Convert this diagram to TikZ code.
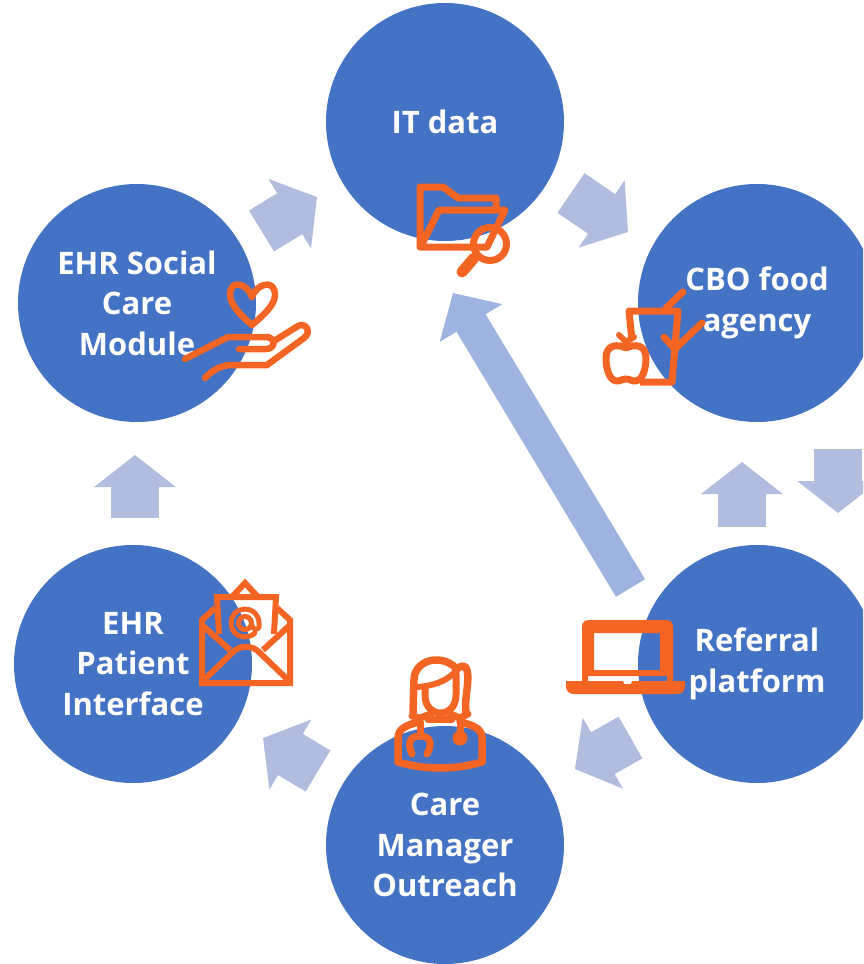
\documentclass[tikz,border=0pt]{standalone}
\usepackage{fontspec}
\setmainfont{Open Sans}
\usetikzlibrary{arrows.meta}
\definecolor{hubblue}{HTML}{4472C4}
\definecolor{shortblue}{HTML}{B0BDDF}
\definecolor{longblue}{HTML}{9DB4E0}
\definecolor{iconorange}{HTML}{F46523}
\tikzset{
  hub/.style={circle,fill=hubblue,minimum size=238pt,inner sep=0pt,text=white,align=center,
    font=\fontsize{31}{40.5}\selectfont\bfseries},
  shortarrow/.style={draw=shortblue,line width=48pt,-{Triangle[length=32pt,width=80pt,fill=shortblue]}},
  longarrow/.style={draw=longblue,line width=34pt,-{Triangle[length=35pt,width=71pt,fill=longblue]}},
  icon/.style={draw=iconorange,line width=7pt,line cap=round,line join=round},
  iconfill/.style={fill=iconorange,draw=none}
}
\begin{document}
\begin{tikzpicture}[x=1pt,y=-1pt]
  \useasboundingbox (0,0) rectangle (863,964);
  \clip (0,0) rectangle (863,964);

  % Nodes
  \draw (445,122) node(ITdata) [hub] {IT data};
  \draw (757,303) node(CBOfood) [hub] {CBO food\\agency};
  \draw (757,664) node(Referral) [hub] {Referral\\platform};
  \draw (445,845) node(CareMgr) [hub] {Care\\Manager\\Outreach};
  \draw (133,664) node(Patient) [hub] {EHR\\Patient\\Interface};
  \draw (137,303) node(Social) [hub] {EHR Social\\Care\\Module};

  % Edge ends
  \coordinate (SocialOut) at (261.5,231);
  \coordinate (ITin) at (317,197);
  \coordinate (ITout) at (571,193);
  \coordinate (CBOin) at (628,232);
  \coordinate (CBOout) at (838,449);
  \coordinate (RefIn) at (838,513);
  \coordinate (RefUp) at (742,527);
  \coordinate (CBOback) at (742,462);
  \coordinate (RefOut) at (630.5,737.5);
  \coordinate (CareIn) at (575,769);
  \coordinate (CareOut) at (318,771);
  \coordinate (PatientIn) at (263,738);
  \coordinate (PatientOut) at (135,518);
  \coordinate (SocialIn) at (135,455);
  \coordinate (RefLong) at (630.5,588);
  \coordinate (ITlong) at (453,293);

  % Edges
  \draw[shortarrow] (SocialOut) -- (ITin);
  \draw[shortarrow] (ITout) -- (CBOin);
  \draw[shortarrow] (CBOout) -- (RefIn);
  \draw[shortarrow] (RefUp) -- (CBOback);
  \draw[shortarrow] (RefOut) -- (CareIn);
  \draw[shortarrow] (CareOut) -- (PatientIn);
  \draw[shortarrow] (PatientOut) -- (SocialIn);
  \draw[longarrow] (RefLong) -- (ITlong);

  % Folder
  \draw[icon] (496,209) -- (496,198) -- (458,198) -- (443,187) -- (420,187) -- (420,247) -- (487,247) -- (505,210) -- (439,210) -- (421,246);
  \draw[icon] (490,244) circle (16.5);
  \draw[icon,line width=11pt] (462,272) -- (474,258);

  % Apple and cup
  \draw[icon,line cap=butt] (632,340) -- (629,311) -- (678,311) -- (672,382) -- (640,382);
  \draw[icon] (666,308) -- (683,292);
  \draw[icon] (664,337) -- (675,349) -- (702,323);
  \draw[icon] (626,348) .. controls (618,344) and (606,344) .. (606,358)
    .. controls (606,370) and (610,381) .. (617,381)
    .. controls (621,381) and (622,379) .. (626,379)
    .. controls (630,379) and (631,381) .. (635,381)
    .. controls (642,381) and (646,370) .. (646,358)
    .. controls (646,344) and (634,344) .. (626,348);
  \draw[icon,line width=6pt] (619,335) -- (626,342) -- (634,337);

  % Heart in hand
  \draw[icon,line width=6.5pt] (252,297) .. controls (248,284) and (230,278) .. (230,295)
    .. controls (230,306) and (244,318) .. (252,325)
    .. controls (260,318) and (275,306) .. (275,295)
    .. controls (275,278) and (256,284) .. (252,297);
  \draw[icon,line width=6.5pt] (185,359) -- (228,337) -- (266,337)
    .. controls (276,337) and (276,349) .. (266,349) -- (239,349);
  \draw[icon,line width=6.5pt] (274,341) -- (298,326)
    .. controls (306,322) and (312,332) .. (304,338)
    -- (267,365) -- (232,365) .. controls (222,365) and (212,370) .. (205,378);

  % Envelope
  \draw[icon,line width=6pt,line cap=butt,line join=miter] (215,608) -- (202,620) -- (202,683) -- (290,683) -- (290,620) -- (277,608);
  \draw[icon,line width=6pt,line cap=butt,line join=miter] (219,634) -- (217,597) -- (276,597) -- (274,634);
  \draw[icon,line width=6pt,line cap=butt,line join=miter] (232,597) -- (245,583) -- (258,597);
  \draw[icon,line width=6pt,line cap=butt] (202,625) -- (230,650);
  \draw[icon,line width=6pt,line cap=butt] (290,625) -- (263,650);
  \draw[icon,line width=6pt,line cap=butt] (204,680) -- (233,652) .. controls (240,645) and (252,645) .. (259,652) -- (288,680);
  \draw[icon,line width=5pt] (245,623) circle (6.5);
  \draw[icon,line width=5pt] (254.9,632.9) arc (45:360:14) -- (259,627) .. controls (259,630) and (253,630) .. (252,626);

  % Care manager
  \draw[icon,line width=7.5pt] (413,713) -- (414,680)
    .. controls (414,668) and (424,660) .. (436,660)
    .. controls (446,660) and (452,664) .. (457,669)
    .. controls (461,665) and (466,665) .. (467,670)
    .. controls (470,682) and (464,698) .. (466,713);
  \draw[icon,line width=6pt] (417,687) .. controls (432,686) and (446,682) .. (456,671);
  \draw[icon] (425,688) -- (425,695) .. controls (425,719) and (456,719) .. (456,695) -- (456,673);
  \draw[icon] (412,716) -- (420,718) -- (431,714);
  \draw[icon] (450,714) -- (460,718) -- (468,714);
  \draw[icon] (428,719) -- (452,719);
  \draw[icon,line width=7.5pt] (418,722) .. controls (408,725) and (398,728) .. (398,738) -- (398,762)
    .. controls (425,770) and (455,770) .. (482,762) -- (482,738)
    .. controls (482,728) and (472,725) .. (460,722);
  \draw[icon] (420,722) -- (420,735);
  \draw[icon] (412,754) .. controls (408,745) and (408,736) .. (420,736)
    .. controls (432,736) and (432,745) .. (427,754);
  \draw[icon] (460,722) -- (460,733);
  \fill[iconfill] (460,738) circle (7.5);

  % Laptop
  \fill[iconfill,even odd rule] (582,627) .. controls (582,622) and (585,620) .. (589,620) -- (666,620)
    .. controls (670,620) and (673,622) .. (673,627) -- (673,682) -- (667,682) -- (667,676) -- (588,676) -- (588,682) -- (582,682) -- cycle
    (594,633) rectangle (660,670);
  \fill[iconfill] (566,681) -- (623,681) -- (624,684) -- (631,684) -- (632,681) -- (685,681) -- (685,686)
    .. controls (685,691) and (682,694) .. (677,694) -- (574,694)
    .. controls (569,694) and (566,691) .. (566,686) -- cycle;
\end{tikzpicture}
\end{document}
